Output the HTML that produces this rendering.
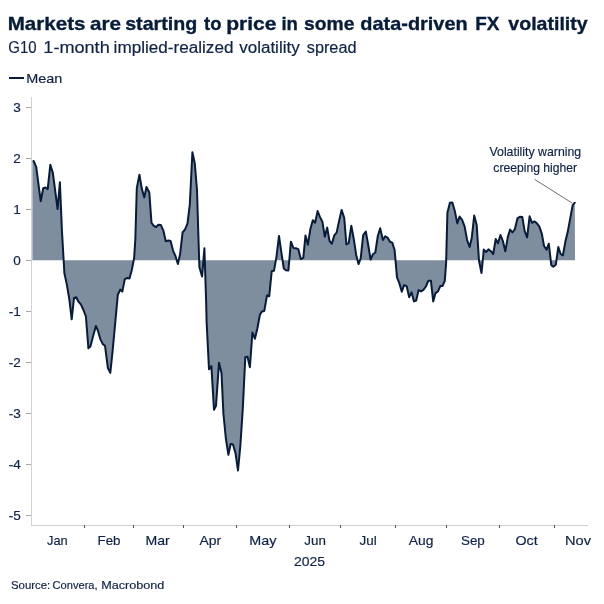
<!DOCTYPE html><html><head><meta charset="utf-8"><title>Chart</title><style>html,body{margin:0;padding:0;background:#fff}svg{display:block}text{font-family:"Liberation Sans",sans-serif;fill:#0f2247;stroke:#0f2247;stroke-width:.18px}</style></head><body>
<svg width="604" height="604" viewBox="0 0 604 604">
<rect width="604" height="604" fill="#fff"/>
<text y="29.6" font-size="19.00" font-weight="bold" style="fill:#071b3a;stroke:#071b3a;stroke-width:.35px"><tspan x="7.71" textLength="77.72" lengthAdjust="spacingAndGlyphs">Markets</tspan> <tspan x="89.98" textLength="30.93" lengthAdjust="spacingAndGlyphs">are</tspan> <tspan x="125.19" textLength="72.07" lengthAdjust="spacingAndGlyphs">starting</tspan> <tspan x="204.00" textLength="17.40" lengthAdjust="spacingAndGlyphs">to</tspan> <tspan x="226.18" textLength="50.34" lengthAdjust="spacingAndGlyphs">price</tspan> <tspan x="281.44" textLength="16.45" lengthAdjust="spacingAndGlyphs">in</tspan> <tspan x="304.10" textLength="50.38" lengthAdjust="spacingAndGlyphs">some</tspan> <tspan x="360.38" textLength="107.28" lengthAdjust="spacingAndGlyphs">data-driven</tspan> <tspan x="475.22" textLength="24.19" lengthAdjust="spacingAndGlyphs">FX</tspan> <tspan x="508.30" textLength="79.38" lengthAdjust="spacingAndGlyphs">volatility</tspan></text>
<text y="53.4" font-size="16.00"><tspan x="8.30" textLength="28.17" lengthAdjust="spacingAndGlyphs">G10</tspan> <tspan x="43.37" textLength="66.35" lengthAdjust="spacingAndGlyphs">1-month</tspan> <tspan x="113.63" textLength="119.83" lengthAdjust="spacingAndGlyphs">implied-realized</tspan> <tspan x="239.20" textLength="60.50" lengthAdjust="spacingAndGlyphs">volatility</tspan> <tspan x="306.75" textLength="49.77" lengthAdjust="spacingAndGlyphs">spread</tspan></text>
<rect x="9" y="77" width="15" height="2" fill="#071b3a"/>
<rect x="31" y="97" width="1" height="429" fill="#d2d2d2"/>
<rect x="31" y="525" width="557" height="1" fill="#d2d2d2"/>
<rect x="26" y="107.0" width="5" height="1" fill="#a8a8a8"/>
<text x="20.80" y="111.9" font-size="13.60" text-anchor="end">3</text>
<rect x="26" y="158.0" width="5" height="1" fill="#a8a8a8"/>
<text x="20.80" y="162.9" font-size="13.60" text-anchor="end">2</text>
<rect x="26" y="209.0" width="5" height="1" fill="#a8a8a8"/>
<text x="20.80" y="213.9" font-size="13.60" text-anchor="end">1</text>
<rect x="26" y="260.0" width="5" height="1" fill="#a8a8a8"/>
<text x="20.80" y="264.9" font-size="13.60" text-anchor="end">0</text>
<rect x="26" y="311.0" width="5" height="1" fill="#a8a8a8"/>
<text x="20.80" y="315.9" font-size="13.60" text-anchor="end">-1</text>
<rect x="26" y="362.0" width="5" height="1" fill="#a8a8a8"/>
<text x="20.80" y="366.9" font-size="13.60" text-anchor="end">-2</text>
<rect x="26" y="413.0" width="5" height="1" fill="#a8a8a8"/>
<text x="20.80" y="417.9" font-size="13.60" text-anchor="end">-3</text>
<rect x="26" y="464.0" width="5" height="1" fill="#a8a8a8"/>
<text x="20.80" y="468.9" font-size="13.60" text-anchor="end">-4</text>
<rect x="26" y="515.0" width="5" height="1" fill="#a8a8a8"/>
<text x="20.80" y="519.9" font-size="13.60" text-anchor="end">-5</text>
<rect x="84" y="525" width="1" height="3" fill="#555"/>
<rect x="133" y="525" width="1" height="3" fill="#555"/>
<rect x="183" y="525" width="1" height="3" fill="#555"/>
<rect x="236" y="525" width="1" height="3" fill="#555"/>
<rect x="289" y="525" width="1" height="3" fill="#555"/>
<rect x="340" y="525" width="1" height="3" fill="#555"/>
<rect x="395" y="525" width="1" height="3" fill="#555"/>
<rect x="446" y="525" width="1" height="3" fill="#555"/>
<rect x="499" y="525" width="1" height="3" fill="#555"/>
<rect x="554" y="525" width="1" height="3" fill="#555"/>
<text x="26.27" y="82.9" font-size="13.60" textLength="36.14" lengthAdjust="spacingAndGlyphs">Mean</text>
<text x="47.00" y="544.6" font-size="13.60" textLength="20.72" lengthAdjust="spacingAndGlyphs">Jan</text>
<text x="97.56" y="544.6" font-size="13.60" textLength="22.98" lengthAdjust="spacingAndGlyphs">Feb</text>
<text x="249.28" y="544.6" font-size="13.60" textLength="27.12" lengthAdjust="spacingAndGlyphs">May</text>
<text x="304.29" y="544.6" font-size="13.60" textLength="21.56" lengthAdjust="spacingAndGlyphs">Jun</text>
<text x="145.50" y="544.6" font-size="13.60" textLength="24.27" lengthAdjust="spacingAndGlyphs">Mar</text>
<text x="199.50" y="544.6" font-size="13.60" textLength="21.67" lengthAdjust="spacingAndGlyphs">Apr</text>
<text x="359.59" y="544.6" font-size="13.60" textLength="17.20" lengthAdjust="spacingAndGlyphs">Jul</text>
<text x="408.70" y="544.6" font-size="13.60" textLength="24.68" lengthAdjust="spacingAndGlyphs">Aug</text>
<text x="460.98" y="544.6" font-size="13.60" textLength="23.86" lengthAdjust="spacingAndGlyphs">Sep</text>
<text x="515.43" y="544.6" font-size="13.60" textLength="22.22" lengthAdjust="spacingAndGlyphs">Oct</text>
<text x="565.06" y="544.6" font-size="13.60" textLength="26.04" lengthAdjust="spacingAndGlyphs">Nov</text>
<text x="293.95" y="566.0" font-size="13.60" textLength="31.02" lengthAdjust="spacingAndGlyphs">2025</text>
<text x="489.50" y="156.2" font-size="12.80" textLength="91.69" lengthAdjust="spacingAndGlyphs">Volatility warning</text>
<text x="493.32" y="171.7" font-size="12.80" textLength="83.74" lengthAdjust="spacingAndGlyphs">creeping higher</text>
<text y="589.3" font-size="11.6"><tspan x="10.94" textLength="39.29" lengthAdjust="spacingAndGlyphs">Source:</tspan> <tspan x="52.48" textLength="45.15" lengthAdjust="spacingAndGlyphs">Convera,</tspan> <tspan x="101.21" textLength="63.20" lengthAdjust="spacingAndGlyphs">Macrobond</tspan></text>
<polygon points="32.4,260.3 32.4,161.0 33.6,161.0 36.2,166.8 40.7,201.2 43.2,188.3 45.5,187.5 47.7,189.1 50.3,164.8 52.8,172.6 57.6,209.0 59.9,182.2 61.9,230.3 64.4,273.3 66.9,284.9 69.4,299.8 71.7,319.3 74.0,298.0 76.2,297.3 78.5,301.7 81.0,304.6 83.4,310.0 85.9,316.5 88.4,348.3 90.4,346.6 93.4,335.0 95.9,325.9 98.0,330.9 100.3,339.1 102.8,344.1 105.0,345.8 107.9,368.1 110.3,372.8 112.4,353.2 114.9,326.3 117.8,294.8 120.3,289.6 122.3,291.6 124.8,279.1 127.3,278.0 129.5,278.6 131.8,270.0 134.1,258.3 135.3,240.3 136.8,188.3 139.4,174.7 141.9,189.1 144.3,197.4 146.5,187.0 149.3,192.5 151.5,222.9 153.8,225.8 156.1,227.0 158.4,224.7 160.9,225.1 163.4,230.7 165.8,241.3 168.5,240.5 170.6,240.9 173.1,250.8 175.4,255.8 177.9,264.0 180.1,254.1 182.6,232.3 185.0,229.5 187.5,223.3 189.8,204.6 192.4,152.2 194.8,163.5 197.0,190.0 198.3,233.3 199.4,267.3 202.1,276.5 204.4,248.3 206.1,300.3 206.6,321.7 209.0,369.3 211.4,366.1 214.0,409.7 216.0,405.9 219.0,362.8 221.5,373.0 223.4,413.4 225.9,439.0 228.4,454.8 230.6,444.0 233.0,444.5 235.5,453.1 238.0,470.5 240.3,446.5 242.8,408.4 245.3,357.3 247.5,356.8 249.9,367.2 252.4,332.5 254.9,338.7 257.4,328.3 259.9,314.7 262.0,311.4 264.3,310.9 267.0,295.3 269.2,296.3 271.7,271.3 274.0,270.7 276.5,256.6 279.0,235.9 281.5,253.3 283.8,268.5 285.9,270.2 288.4,270.5 290.9,241.7 293.4,248.0 295.9,248.3 298.3,249.1 300.8,259.1 303.3,257.8 305.5,235.4 307.9,244.7 310.3,229.3 312.8,220.2 315.1,222.7 317.6,211.1 319.9,216.9 322.4,221.8 324.8,236.7 327.2,227.6 329.5,240.9 331.8,243.8 334.3,235.4 336.6,232.6 339.1,221.0 341.6,209.9 344.2,217.7 346.4,244.5 348.7,243.2 351.3,225.8 353.9,239.8 356.2,255.0 358.5,264.1 360.7,258.3 363.2,235.1 365.8,231.5 368.1,244.2 370.6,259.6 372.9,254.2 375.3,252.5 377.8,236.0 380.2,228.2 382.9,240.1 385.2,236.3 387.5,237.6 390.0,241.8 392.3,242.6 394.6,250.0 397.0,277.4 399.3,283.1 401.8,291.8 404.1,285.1 406.6,286.1 409.2,297.2 411.5,292.3 414.0,301.4 416.2,300.5 418.6,290.1 421.0,291.4 423.4,289.8 425.9,286.5 428.4,280.7 430.9,280.7 433.2,301.4 435.5,293.1 438.0,291.4 440.3,286.1 442.5,286.1 444.8,280.8 446.1,263.1 447.4,212.7 449.9,202.7 452.4,202.4 454.8,211.0 457.3,223.4 459.6,216.5 462.1,219.8 464.6,226.4 467.1,240.0 469.6,246.9 471.7,238.3 474.2,215.5 476.7,225.1 479.0,260.7 481.5,273.1 483.8,249.6 486.1,252.1 488.4,249.4 490.9,251.2 493.2,254.0 495.7,239.1 498.0,243.3 500.5,235.0 502.8,240.8 505.3,251.3 507.8,237.1 510.1,229.5 512.4,232.5 514.9,229.1 517.4,218.4 519.8,216.7 522.3,216.9 524.6,230.8 527.1,237.4 529.6,216.3 532.0,222.8 534.4,221.4 536.9,223.3 539.4,226.7 541.7,233.3 544.0,245.7 546.5,249.8 548.8,243.7 551.3,265.1 553.3,266.7 555.8,264.7 558.3,247.0 560.6,254.0 562.9,255.3 565.4,241.6 567.8,231.6 570.2,218.4 572.7,205.1 574.8,202.7 575.0,260.3" fill="#7f8e9e"/>
<polyline points="33.6,161.0 36.2,166.8 40.7,201.2 43.2,188.3 45.5,187.5 47.7,189.1 50.3,164.8 52.8,172.6 57.6,209.0 59.9,182.2 61.9,230.3 64.4,273.3 66.9,284.9 69.4,299.8 71.7,319.3 74.0,298.0 76.2,297.3 78.5,301.7 81.0,304.6 83.4,310.0 85.9,316.5 88.4,348.3 90.4,346.6 93.4,335.0 95.9,325.9 98.0,330.9 100.3,339.1 102.8,344.1 105.0,345.8 107.9,368.1 110.3,372.8 112.4,353.2 114.9,326.3 117.8,294.8 120.3,289.6 122.3,291.6 124.8,279.1 127.3,278.0 129.5,278.6 131.8,270.0 134.1,258.3 135.3,240.3 136.8,188.3 139.4,174.7 141.9,189.1 144.3,197.4 146.5,187.0 149.3,192.5 151.5,222.9 153.8,225.8 156.1,227.0 158.4,224.7 160.9,225.1 163.4,230.7 165.8,241.3 168.5,240.5 170.6,240.9 173.1,250.8 175.4,255.8 177.9,264.0 180.1,254.1 182.6,232.3 185.0,229.5 187.5,223.3 189.8,204.6 192.4,152.2 194.8,163.5 197.0,190.0 198.3,233.3 199.4,267.3 202.1,276.5 204.4,248.3 206.1,300.3 206.6,321.7 209.0,369.3 211.4,366.1 214.0,409.7 216.0,405.9 219.0,362.8 221.5,373.0 223.4,413.4 225.9,439.0 228.4,454.8 230.6,444.0 233.0,444.5 235.5,453.1 238.0,470.5 240.3,446.5 242.8,408.4 245.3,357.3 247.5,356.8 249.9,367.2 252.4,332.5 254.9,338.7 257.4,328.3 259.9,314.7 262.0,311.4 264.3,310.9 267.0,295.3 269.2,296.3 271.7,271.3 274.0,270.7 276.5,256.6 279.0,235.9 281.5,253.3 283.8,268.5 285.9,270.2 288.4,270.5 290.9,241.7 293.4,248.0 295.9,248.3 298.3,249.1 300.8,259.1 303.3,257.8 305.5,235.4 307.9,244.7 310.3,229.3 312.8,220.2 315.1,222.7 317.6,211.1 319.9,216.9 322.4,221.8 324.8,236.7 327.2,227.6 329.5,240.9 331.8,243.8 334.3,235.4 336.6,232.6 339.1,221.0 341.6,209.9 344.2,217.7 346.4,244.5 348.7,243.2 351.3,225.8 353.9,239.8 356.2,255.0 358.5,264.1 360.7,258.3 363.2,235.1 365.8,231.5 368.1,244.2 370.6,259.6 372.9,254.2 375.3,252.5 377.8,236.0 380.2,228.2 382.9,240.1 385.2,236.3 387.5,237.6 390.0,241.8 392.3,242.6 394.6,250.0 397.0,277.4 399.3,283.1 401.8,291.8 404.1,285.1 406.6,286.1 409.2,297.2 411.5,292.3 414.0,301.4 416.2,300.5 418.6,290.1 421.0,291.4 423.4,289.8 425.9,286.5 428.4,280.7 430.9,280.7 433.2,301.4 435.5,293.1 438.0,291.4 440.3,286.1 442.5,286.1 444.8,280.8 446.1,263.1 447.4,212.7 449.9,202.7 452.4,202.4 454.8,211.0 457.3,223.4 459.6,216.5 462.1,219.8 464.6,226.4 467.1,240.0 469.6,246.9 471.7,238.3 474.2,215.5 476.7,225.1 479.0,260.7 481.5,273.1 483.8,249.6 486.1,252.1 488.4,249.4 490.9,251.2 493.2,254.0 495.7,239.1 498.0,243.3 500.5,235.0 502.8,240.8 505.3,251.3 507.8,237.1 510.1,229.5 512.4,232.5 514.9,229.1 517.4,218.4 519.8,216.7 522.3,216.9 524.6,230.8 527.1,237.4 529.6,216.3 532.0,222.8 534.4,221.4 536.9,223.3 539.4,226.7 541.7,233.3 544.0,245.7 546.5,249.8 548.8,243.7 551.3,265.1 553.3,266.7 555.8,264.7 558.3,247.0 560.6,254.0 562.9,255.3 565.4,241.6 567.8,231.6 570.2,218.4 572.7,205.1 574.8,202.7" fill="none" stroke="#071b3a" stroke-width="2" stroke-linejoin="round" stroke-linecap="round"/>
<line x1="534.5" y1="179.3" x2="572.3" y2="203.2" stroke="#6e6e6e" stroke-width="1"/>
</svg></body></html>
